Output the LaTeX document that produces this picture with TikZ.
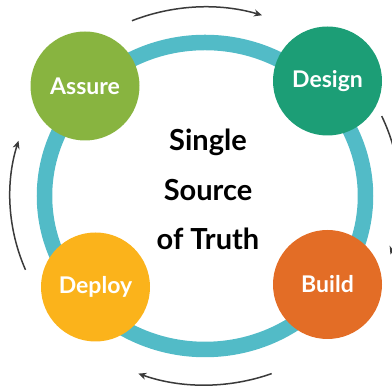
\documentclass[tikz,border=0pt]{standalone}
\usepackage{fontspec}
\setmainfont{Lato}
\usetikzlibrary{arrows.meta}
\definecolor{ringc}{HTML}{52BBC7}
\definecolor{assurec}{HTML}{88B440}
\definecolor{designc}{HTML}{1C9E76}
\definecolor{deployc}{HTML}{FBB31B}
\definecolor{buildc}{HTML}{E36D26}
\definecolor{arrowc}{HTML}{3A3A3A}
\tikzset{
  phase/.style={circle, minimum size=109pt, inner sep=0pt, text=white,
    font=\fontsize{23}{27}\selectfont\bfseries},
  cyclearrow/.style={draw=arrowc, line width=1.5pt,
    -{Stealth[length=8pt,width=7pt,inset=2.5pt]}},
}
\begin{document}
\begin{tikzpicture}[x=1pt,y=1pt]
\useasboundingbox (0,0) rectangle (392,387);
\clip (0,0) rectangle (392,387);
\coordinate (c) at (205,191);
% ring
\draw[ringc, line width=15.5pt] (c) ellipse [x radius=160.5, y radius=153.5];
% cycle arrows
\draw[cyclearrow] (c) ++(112:195 and 189) arc[start angle=112, end angle=73, x radius=195, y radius=189];
\draw[cyclearrow] (c) ++(25:195 and 189) arc[start angle=25, end angle=-18, x radius=195, y radius=189];
\draw[cyclearrow] (c) ++(-70:195 and 189) arc[start angle=-70, end angle=-110, x radius=195, y radius=189];
\draw[cyclearrow] (c) ++(203:195 and 189) arc[start angle=203, end angle=163, x radius=195, y radius=189];
% phases
\node[phase, fill=assurec] (assure) at (85,301) {Assure};
\node[phase, fill=designc] (design) at (327.5,306) {Design};
\node[phase, fill=deployc] (deploy) at (95.5,100) {Deploy};
\node[phase, fill=buildc] (build) at (327.5,102.5) {Build};
% centre
\node[align=center, font=\fontsize{29}{49.5}\selectfont\bfseries, inner sep=0pt] (sst) at (208,197.5) {Single\\Source\\of Truth};
\end{tikzpicture}
\end{document}
